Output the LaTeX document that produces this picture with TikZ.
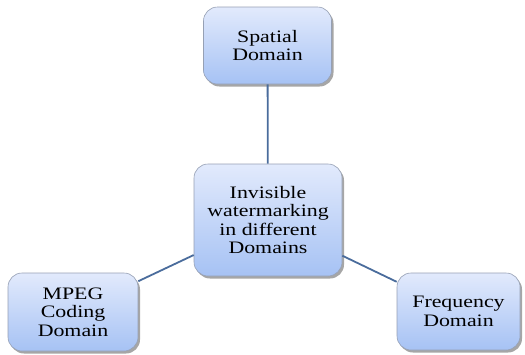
\documentclass[tikz,border=0pt]{standalone}
\usepackage{fontspec}
\setmainfont{Liberation Serif}[FakeStretch=1.25]
\usetikzlibrary{shadows}
\definecolor{boxtop}{RGB}{226,234,252}
\definecolor{boxbot}{RGB}{166,194,244}
\definecolor{boxline}{RGB}{150,160,180}
\definecolor{linkc}{RGB}{74,108,156}
\begin{document}
\begin{tikzpicture}[x=1pt,y=-1pt,
  dombox/.style={rectangle, rounded corners=14pt, draw=boxline, line width=0.6pt,
    top color=boxtop, bottom color=boxbot, align=center, inner sep=2pt,
    font=\fontsize{17.5}{18.5}\selectfont,
    drop shadow={shadow xshift=2pt, shadow yshift=-2.5pt, fill=black, opacity=0.35}},
  link/.style={draw=linkc, line width=1.8pt}]
\useasboundingbox (0,0) rectangle (525,354);
\node[dombox, minimum width=128pt, minimum height=77pt] (spatial) at (267.5,45.5) {Spatial\\Domain};
\node[dombox, minimum width=148pt, minimum height=112pt] (center) at (268,220) {Invisible\\watermarking\\in different\\Domains};
\node[dombox, minimum width=130pt, minimum height=78pt] (mpeg) at (73,312) {MPEG\\Coding\\Domain};
\node[dombox, minimum width=123pt, minimum height=77pt] (freq) at (458.5,311.5) {Frequency\\Domain};
\draw[link] (spatial) -- (center);
\draw[link] (center) -- (mpeg);
\draw[link] (center) -- (freq);
\end{tikzpicture}
\end{document}
